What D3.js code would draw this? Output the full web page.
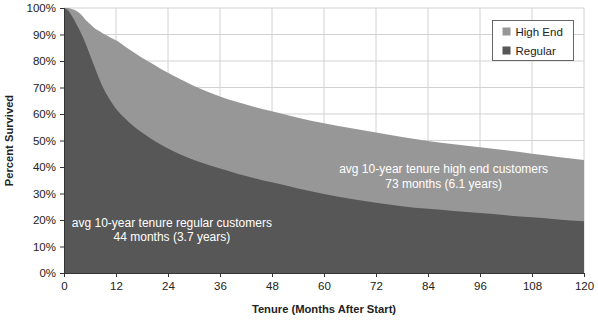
<!DOCTYPE html>
<html>
<head>
<meta charset="utf-8">
<script src="https://cdn.jsdelivr.net/npm/d3@7"></script>
<style>
  html, body { margin: 0; padding: 0; background: #fff; }
  svg { display: block; font-family: "Liberation Sans", Arial, sans-serif; }
</style>
</head>
<body>
<svg id="chart" width="598" height="322"></svg>
<script>
// Survival curves: percent of customers still active by month of tenure
const months = [0, 1, 2, 3, 4, 5, 6, 7, 8, 9, 10, 11, 12, 14, 16, 18, 20, 22, 24, 27, 30, 33, 36, 40, 44, 48, 54, 60, 66, 72, 78, 84, 90, 96, 102, 108, 114, 120];
const regular = [100, 99, 96.5, 93.5, 90.3, 86.5, 82.3, 78, 73.8, 70, 67, 64.3, 62, 58.5, 55.5, 53, 50.8, 48.8, 47, 44.6, 42.6, 40.9, 39.4, 37.5, 35.8, 34.2, 31.9, 29.8, 28, 26.5, 25.2, 24.2, 23.4, 22.6, 21.8, 21, 20.2, 19.5];
const highEnd = [100, 100, 99.5, 98.8, 97.5, 95.5, 94, 92.5, 91.4, 90.4, 89.5, 88.6, 87.8, 85.6, 83.4, 81.2, 79.3, 77.4, 75.6, 73, 70.6, 68.5, 66.6, 64.5, 62.6, 61, 58.6, 56.5, 54.7, 53, 51.3, 49.8, 48.6, 47.5, 46.3, 45, 43.8, 42.6];

const seriesNames = ["High End", "Regular"];
const seriesColors = ["#979797", "#575757"];
const xTicks = [0, 12, 24, 36, 48, 60, 72, 84, 96, 108, 120];
const yTicks = [0, 10, 20, 30, 40, 50, 60, 70, 80, 90, 100];
const notes = [
  { x: 24.9, y: 17.4, lines: ["avg 10-year tenure regular customers", "44 months (3.7 years)"] },
  { x: 87.6, y: 37.7, lines: ["avg 10-year tenure high end customers", "73 months (6.1 years)"] }
];

const svg = d3.select("#chart");
const margin = { left: 64, right: 14, top: 8, bottom: 49 };
const W = 598, H = 322;

const x = d3.scaleLinear().domain([0, 120]).range([margin.left, W - margin.right]);
const y = d3.scaleLinear().domain([0, 100]).range([H - margin.bottom, margin.top]);

// grid
const grid = svg.append("g");
grid.selectAll("line.v").data(xTicks.filter(d => d > 0)).join("line")
  .attr("x1", d => x(d)).attr("x2", d => x(d))
  .attr("y1", y(0)).attr("y2", y(100))
  .attr("stroke", "#d2d2d2").attr("stroke-width", 1);
grid.selectAll("line.h").data(yTicks.filter(d => d > 0)).join("line")
  .attr("x1", x(0)).attr("x2", x(120))
  .attr("y1", d => y(d)).attr("y2", d => y(d))
  .attr("stroke", "#d2d2d2").attr("stroke-width", 1);

// areas
const data = months.map((m, i) => ({ m, r: regular[i], h: highEnd[i] }));
const areaH = d3.area().x(d => x(d.m)).y0(y(0)).y1(d => y(d.h)).curve(d3.curveMonotoneX);
const areaR = d3.area().x(d => x(d.m)).y0(y(0)).y1(d => y(d.r)).curve(d3.curveMonotoneX);
svg.append("path").datum(data).attr("d", areaH).attr("fill", seriesColors[0]);
svg.append("path").datum(data).attr("d", areaR).attr("fill", seriesColors[1]);

// axes
const yAxis = svg.append("g").attr("transform", `translate(${x(0)},0)`)
  .call(d3.axisLeft(y).tickValues(yTicks).tickFormat(d => d + "%").tickSize(4).tickPadding(4));
const xAxis = svg.append("g").attr("transform", `translate(0,${y(0)})`)
  .call(d3.axisBottom(x).tickValues(xTicks).tickSize(4).tickPadding(5));
[yAxis, xAxis].forEach(a => {
  a.select(".domain").attr("stroke", "#333");
  a.selectAll(".tick line").attr("stroke", "#333");
  a.selectAll("text").attr("fill", "#222").style("font-size", "11.5px")
    .style("font-family", '"Liberation Sans", Arial, sans-serif');
});

// axis titles
svg.append("text")
  .attr("transform", `translate(13,${(y(0) + y(100)) / 2}) rotate(-90)`)
  .attr("text-anchor", "middle")
  .style("font-size", "11.2px").style("font-weight", "bold").attr("fill", "#222")
  .text("Percent Survived");
svg.append("text")
  .attr("x", (x(0) + x(120)) / 2).attr("y", 313)
  .attr("text-anchor", "middle")
  .style("font-size", "11.2px").style("font-weight", "bold").attr("fill", "#222")
  .text("Tenure (Months After Start)");

// annotations
notes.forEach(n => {
  const t = svg.append("text").attr("text-anchor", "middle").attr("fill", "#fff")
    .style("font-size", "12px");
  n.lines.forEach((l, i) => {
    t.append("tspan").attr("x", x(n.x)).attr("y", y(n.y) + i * 14.5).text(l);
  });
});

// legend
const lg = svg.append("g").attr("transform", "translate(492.5,20.5)");
lg.append("rect").attr("width", 81).attr("height", 40)
  .attr("fill", "#fff").attr("stroke", "#666").attr("stroke-width", 1);
seriesNames.forEach((name, i) => {
  lg.append("rect").attr("x", 10).attr("y", 7 + i * 19).attr("width", 8).attr("height", 8)
    .attr("fill", seriesColors[i]);
  lg.append("text").attr("x", 23).attr("y", 15.5 + i * 19)
    .style("font-size", "11.5px").attr("fill", "#222").text(name);
});
</script>
</body>
</html>
